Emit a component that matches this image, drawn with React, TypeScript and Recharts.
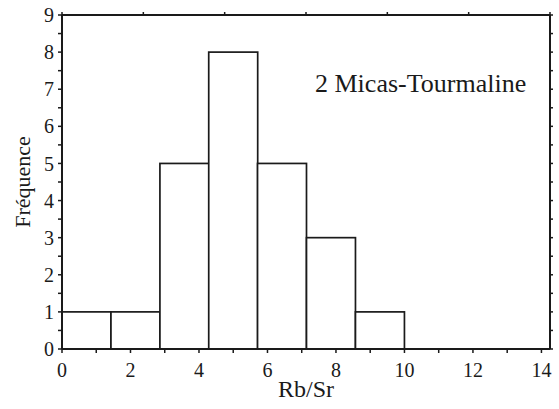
import { BarChart, Bar, XAxis, YAxis } from "recharts";

const binEdges = [0, 1.43, 2.86, 4.29, 5.71, 7.14, 8.57, 10];
const counts = [1, 1, 5, 8, 5, 3, 1];
const xTicks = [0, 1, 2, 3, 4, 5, 6, 7, 8, 9, 10, 11, 12, 13, 14];
const yTicks = [0, 0.5, 1, 1.5, 2, 2.5, 3, 3.5, 4, 4.5, 5, 5.5, 6, 6.5, 7, 7.5, 8, 8.5, 9];
const title = "2 Micas-Tourmaline";

const W = 559;
const H = 409;
const X_MAX = 14.25;
const PLOT_LEFT = 62;
const PLOT_RIGHT = 550;

const data = counts.map((c, i) => ({
  mid: (binEdges[i] + binEdges[i + 1]) / 2,
  count: c,
}));

const binWidth = binEdges[1] - binEdges[0];
const barPx = (binWidth * (PLOT_RIGHT - PLOT_LEFT)) / X_MAX;

const font = "Liberation Serif";
const ink = "#1a1a1a";

// histogram bins: keep the centre recharts gives, widen to the full bin
const BinRect = (props: any) => {
  const { x, y, width, height } = props;
  const cx = x + width / 2;
  return (
    <rect
      x={cx - barPx / 2}
      y={y}
      width={barPx}
      height={height}
      fill="#ffffff"
      stroke={ink}
      strokeWidth={1.7}
    />
  );
};

const App = () => {
  return (
    <div style={{ position: "absolute", left: 0, top: 0, width: W, height: H }}>
      <BarChart
        width={W}
        height={H}
        data={data}
        margin={{ top: 0, right: 0, left: 0, bottom: 0 }}
      >
        <XAxis
          dataKey="mid"
          type="number"
          domain={[0, X_MAX]}
          ticks={xTicks}
          interval={0}
          height={60}
          tickSize={4}
          tickMargin={10}
          tickFormatter={(v: number) => (v % 2 === 0 ? String(v) : "")}
          tick={{ fill: ink, fontSize: 20, fontFamily: font }}
          axisLine={{ stroke: ink, strokeWidth: 2 }}
          tickLine={{ stroke: ink, strokeWidth: 1.5 }}
          allowDataOverflow
          label={{
            value: "Rb/Sr",
            position: "insideBottom",
            offset: 12,
            fill: ink,
            fontSize: 24,
            fontFamily: font,
          }}
        />
        <XAxis
          xAxisId="top"
          orientation="top"
          type="number"
          domain={[0, X_MAX]}
          ticks={xTicks}
          interval={0}
          height={15}
          tickSize={3}
          tickFormatter={() => ""}
          axisLine={{ stroke: ink, strokeWidth: 2 }}
          tickLine={{ stroke: ink, strokeWidth: 1.5 }}
          allowDataOverflow
        />
        <YAxis
          type="number"
          domain={[0, 9]}
          ticks={yTicks}
          interval={0}
          width={62}
          tickSize={4}
          tickMargin={4}
          tickFormatter={(v: number) => (Number.isInteger(v) ? String(v) : "")}
          tick={{ fill: ink, fontSize: 20, fontFamily: font }}
          axisLine={{ stroke: ink, strokeWidth: 2 }}
          tickLine={{ stroke: ink, strokeWidth: 1.5 }}
          allowDataOverflow
          label={{
            value: "Fréquence",
            position: "insideLeft",
            angle: -90,
            offset: 22,
            fill: ink,
            fontSize: 22,
            fontFamily: font,
            style: { textAnchor: "middle" },
          }}
        />
        <YAxis
          yAxisId="right"
          orientation="right"
          type="number"
          domain={[0, 9]}
          ticks={yTicks}
          interval={0}
          width={9}
          tickSize={3}
          tickFormatter={() => ""}
          axisLine={{ stroke: ink, strokeWidth: 2 }}
          tickLine={{ stroke: ink, strokeWidth: 1.5 }}
          allowDataOverflow
        />
        <Bar dataKey="count" shape={BinRect} isAnimationActive={false} />
      </BarChart>
      <svg
        width={W}
        height={H}
        style={{ position: "absolute", left: 0, top: 0, pointerEvents: "none" }}
      >
        <text x={315} y={92} fontSize={26} fontFamily={font} fill={ink}>
          {title}
        </text>
      </svg>
    </div>
  );
};

export default App;
